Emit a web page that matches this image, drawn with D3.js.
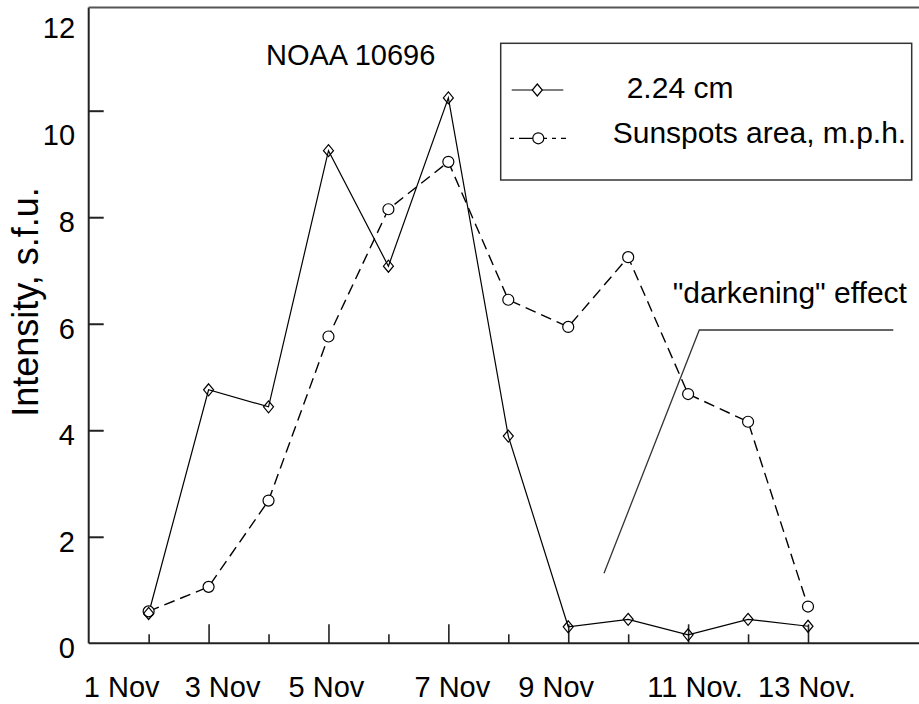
<!DOCTYPE html>
<html>
<head>
<meta charset="utf-8">
<script src="https://cdn.jsdelivr.net/npm/d3@7"></script>
<style>
  html, body { margin: 0; padding: 0; background: #fff; }
  svg { display: block; font-family: "Liberation Sans", Arial, Helvetica, sans-serif; }
</style>
</head>
<body>
<svg id="chart" width="919" height="704"></svg>
<script>
// Observation days (November 2004) and daily values for active region NOAA 10696
const days = [2, 3, 4, 5, 6, 7, 8, 9, 10, 11, 12, 13];
const radio224 = [0.56, 4.76, 4.44, 9.25, 7.08, 10.24, 3.89, 0.31, 0.45, 0.16, 0.45, 0.32];
const sunspotArea = [0.60, 1.06, 2.68, 5.76, 8.15, 9.04, 6.45, 5.94, 7.25, 4.68, 4.16, 0.69];

const majorDays = [3, 5, 7, 9, 11, 13];
const minorDays = [2, 4, 6, 8, 10, 12];
const dayLabels = ["1 Nov", "3 Nov", "5 Nov", "7 Nov", "9 Nov", "11 Nov.", "13 Nov."];
const labelDays = [1, 3, 5, 7, 9, 11, 13];
const yTicks = [0, 2, 4, 6, 8, 10, 12];

const seriesNames = ["2.24 cm", "Sunspots area, m.p.h."];
const regionTitle = "NOAA 10696";
const yTitle = "Intensity, s.f.u.";
const noteText = "\"darkening\" effect";

const W = 919, H = 704;
const svg = d3.select("#chart");

const x = d3.scaleLinear().domain([1, 13]).range([88.7, 808]);
const y = d3.scaleLinear().domain([0, 10]).range([643.3, 110.7]);

const frameTop = 7.5;
const axisColor = "#222";

// frame: left axis, top rule, bottom axis
svg.append("line").attr("x1", x(1)).attr("x2", x(1)).attr("y1", frameTop).attr("y2", y(0))
  .attr("stroke", axisColor).attr("stroke-width", 2);
svg.append("line").attr("x1", x(1)).attr("x2", W).attr("y1", frameTop).attr("y2", frameTop)
  .attr("stroke", "#555").attr("stroke-width", 2);
svg.append("line").attr("x1", x(1)).attr("x2", W).attr("y1", y(0)).attr("y2", y(0))
  .attr("stroke", axisColor).attr("stroke-width", 2);

// y axis: inward ticks, labels on the left
const yAxis = d3.axisLeft(y).tickValues(yTicks).tickSize(-15).tickPadding(13.7)
  .tickFormat(d3.format("d"));
const gy = svg.append("g").attr("transform", `translate(${x(1)},0)`).call(yAxis);
gy.select(".domain").remove();
gy.selectAll(".tick line").attr("stroke", axisColor).attr("stroke-width", 2)
  .attr("display", d => (d === 0 || d === 12) ? "none" : null);
gy.selectAll(".tick text")
  .attr("fill", "#000").attr("font-size", 29)
  .attr("font-family", "'Liberation Sans', Arial, sans-serif")
  .attr("dy", d => d >= 10 ? 33.5 : 14.5);

// x axis: alternating long and short inward ticks
const gxMajor = svg.append("g").attr("transform", `translate(0,${y(0)})`)
  .call(d3.axisBottom(x).tickValues(majorDays).tickSize(-19).tickFormat(""));
const gxMinor = svg.append("g").attr("transform", `translate(0,${y(0)})`)
  .call(d3.axisBottom(x).tickValues(minorDays).tickSize(-9).tickFormat(""));
[gxMajor, gxMinor].forEach(g => {
  g.select(".domain").remove();
  g.selectAll(".tick line").attr("stroke", axisColor).attr("stroke-width", 1.6);
});

// day labels under the axis
const labelShift = { 1: 33, 3: 14, 5: -2, 7: 4, 9: -12, 11: 7, 13: -1 };
svg.append("g").selectAll("text").data(labelDays).join("text")
  .attr("x", d => x(d) + labelShift[d])
  .attr("y", 697)
  .attr("text-anchor", "middle")
  .attr("font-size", 29)
  .attr("fill", "#000")
  .text((d, i) => dayLabels[i]);

// y-axis title
svg.append("text")
  .attr("transform", `translate(38,302) rotate(-90)`)
  .attr("text-anchor", "middle")
  .attr("font-size", 36)
  .attr("fill", "#000")
  .text(yTitle);

// series lines
const line = d3.line().x(d => x(d[0])).y(d => y(d[1]));
const ptsRadio = days.map((d, i) => [d, radio224[i]]);
const ptsArea = days.map((d, i) => [d, sunspotArea[i]]);

svg.append("path").datum(ptsArea).attr("d", line)
  .attr("fill", "none").attr("stroke", "#000").attr("stroke-width", 1.4)
  .attr("stroke-dasharray", "11,6");
svg.append("path").datum(ptsRadio).attr("d", line)
  .attr("fill", "none").attr("stroke", "#000").attr("stroke-width", 1.2);

const diamond = (cx, cy) => `M${cx},${cy - 6}L${cx + 5},${cy}L${cx},${cy + 6}L${cx - 5},${cy}Z`;

svg.append("g").selectAll("circle").data(ptsArea).join("circle")
  .attr("cx", d => x(d[0])).attr("cy", d => y(d[1])).attr("r", 5.5)
  .attr("fill", "#fff").attr("stroke", "#000").attr("stroke-width", 1.2);
svg.append("g").selectAll("path").data(ptsRadio).join("path")
  .attr("d", d => diamond(x(d[0]), y(d[1])))
  .attr("fill", "none").attr("stroke", "#000").attr("stroke-width", 1.2);

// region name
svg.append("text").attr("x", 266).attr("y", 65).attr("font-size", 29).attr("fill", "#000")
  .text(regionTitle);

// legend
const lg = svg.append("g");
lg.append("rect").attr("x", 500.7).attr("y", 43.3).attr("width", 411).attr("height", 136.7)
  .attr("fill", "#fff").attr("stroke", "#333").attr("stroke-width", 1.5);
lg.append("line").attr("x1", 511.7).attr("x2", 563.3).attr("y1", 90).attr("y2", 90)
  .attr("stroke", "#000").attr("stroke-width", 1.2);
lg.append("path").attr("d", diamond(537.3, 90)).attr("fill", "#fff")
  .attr("stroke", "#000").attr("stroke-width", 1.2);
lg.append("text").attr("x", 626.7).attr("y", 98.3).attr("font-size", 30).attr("fill", "#000")
  .text(seriesNames[0]);
lg.append("line").attr("x1", 510).attr("x2", 566).attr("y1", 138.3).attr("y2", 138.3)
  .attr("stroke", "#000").attr("stroke-width", 1.2).attr("stroke-dasharray", "4,5,19,5,4,5");
lg.append("circle").attr("cx", 538.3).attr("cy", 138.3).attr("r", 5.5)
  .attr("fill", "#fff").attr("stroke", "#000").attr("stroke-width", 1.2);
lg.append("text").attr("x", 612.7).attr("y", 143.3).attr("font-size", 30).attr("fill", "#000")
  .text(seriesNames[1]);

// annotation with leader line
svg.append("text").attr("x", 672.7).attr("y", 302.7).attr("font-size", 30).attr("fill", "#000")
  .text(noteText);
svg.append("path").attr("d", "M604,573.3L699.3,330L893.3,330")
  .attr("fill", "none").attr("stroke", "#333").attr("stroke-width", 1.3);
</script>
</body>
</html>
